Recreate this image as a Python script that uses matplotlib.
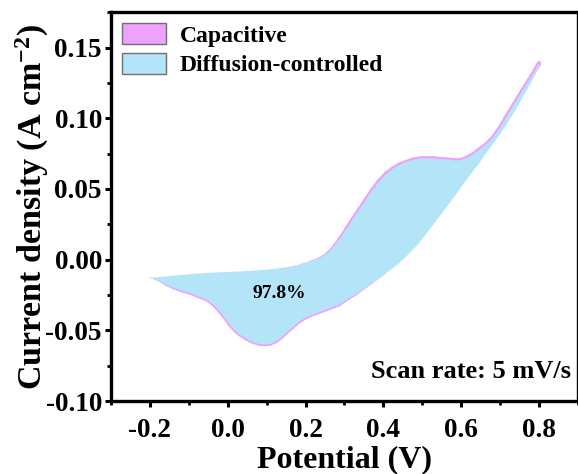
import matplotlib
matplotlib.use('Agg')
import matplotlib.pyplot as plt
import numpy as np
from matplotlib.patches import Patch
from matplotlib.collections import LineCollection
from matplotlib.ticker import MultipleLocator

# Forward (anodic) scan
fwd_v = [-0.2, -0.17, -0.14, -0.097, -0.055, 0.0, 0.031, 0.074, 0.116, 0.15,
         0.185, 0.21, 0.236, 0.253, 0.27, 0.287, 0.304, 0.32, 0.338, 0.355,
         0.372, 0.39, 0.407, 0.424, 0.441, 0.458, 0.475, 0.492, 0.509, 0.53,
         0.552, 0.57, 0.586, 0.6, 0.612, 0.629, 0.646, 0.663, 0.68, 0.70,
         0.715, 0.735, 0.757, 0.78, 0.8]
fwd_j = [-0.0129, -0.0121, -0.0113, -0.0103, -0.0094, -0.0087, -0.0083, -0.0076,
         -0.0066, -0.0054, -0.0035, -0.0014, 0.0012, 0.0040, 0.0085, 0.0145,
         0.0212, 0.028, 0.0353, 0.0425, 0.0494, 0.0558, 0.0608, 0.0643, 0.0671,
         0.069, 0.0706, 0.0714, 0.0718, 0.0716, 0.0711, 0.0706, 0.0701, 0.0705,
         0.0718, 0.0742, 0.0777, 0.0812, 0.0858, 0.0935, 0.1005, 0.1095, 0.1195,
         0.1295, 0.139]

# Reverse (cathodic) scan
rev_v = [0.8, 0.78, 0.757, 0.74, 0.71, 0.689, 0.667, 0.646, 0.62, 0.595, 0.57,
         0.544, 0.518, 0.492, 0.466, 0.441, 0.405, 0.372, 0.35, 0.33, 0.313,
         0.287, 0.253, 0.219, 0.2, 0.185, 0.168, 0.15, 0.138, 0.125, 0.11, 0.095,
         0.08, 0.065, 0.048, 0.031, 0.018, 0.005, -0.008, -0.021, -0.038, -0.055,
         -0.075, -0.097, -0.12, -0.14, -0.158, -0.174, -0.188, -0.2]
rev_j = [0.1365, 0.1255, 0.1145, 0.106, 0.093, 0.0847, 0.0765, 0.0683, 0.059,
         0.0494, 0.040, 0.0306, 0.0212, 0.0118, 0.0043, -0.0023, -0.0100, -0.0165,
         -0.0205, -0.0245, -0.0270, -0.0318, -0.0353, -0.0388, -0.041, -0.0436,
         -0.0475, -0.0518, -0.0550, -0.0577, -0.0595, -0.060, -0.0596, -0.0584,
         -0.0560, -0.053, -0.050, -0.046, -0.041, -0.0365, -0.0315, -0.0282,
         -0.026, -0.0235, -0.0218, -0.020, -0.0178, -0.0153, -0.0138, -0.0129]

cap_color = '#EEA2FB'
dif_color = '#B3E4F8'

plt.rcParams['font.family'] = ['Liberation Serif', 'DejaVu Serif']
plt.rcParams['font.weight'] = 'bold'
plt.rcParams['mathtext.fontset'] = 'custom'
plt.rcParams['mathtext.rm'] = 'Liberation Serif:bold'
plt.rcParams['mathtext.bf'] = 'Liberation Serif:bold'
plt.rcParams['mathtext.default'] = 'bf'
plt.rcParams['axes.unicode_minus'] = False


def rim(ax, v, j, width, taper_start=True, taper_end=True, n=5):
    # pink capacitive rim, tapered so it fades in/out like the original
    pts = np.column_stack([v, j]).reshape(-1, 1, 2)
    segs = np.concatenate([pts[:-1], pts[1:]], axis=1)
    k = np.arange(len(segs))
    w = np.full(len(segs), width)
    if taper_start:
        w = np.minimum(w, width * (k + 1) / (n + 1))
    if taper_end:
        w = np.minimum(w, width * (len(segs) - k) / (n + 1))
    ax.add_collection(LineCollection(segs, linewidths=w, colors=cap_color,
                                     capstyle='round', zorder=1))


fig = plt.figure(figsize=(5.78, 4.74), dpi=100)
ax = fig.add_axes([0.192, 0.154, 0.808, 0.82])

fv, fj = np.array(fwd_v), np.array(fwd_j)
rv, rj = np.array(rev_v), np.array(rev_j)
up = fv >= 0.185
lo = (rv <= 0.405) & (rv >= -0.2)
rim(ax, fv[up], fj[up], 3.2, taper_start=True, taper_end=False, n=6)
rim(ax, rv[lo], rj[lo], 2.5, taper_start=True, taper_end=True, n=5)

ax.fill(fwd_v + rev_v, fwd_j + rev_j, facecolor=dif_color, edgecolor='none', zorder=2)

ax.text(0.133, -0.024, '97.8%', fontsize=14, fontweight='bold', ha='center', va='center', zorder=3)
ax.text(0.882, -0.079, 'Scan rate: 5 mV/s', fontsize=19, fontweight='bold', ha='right', va='center')

ax.set_xlim(-0.3, 0.9)
ax.set_ylim(-0.1, 0.175)
ax.xaxis.set_minor_locator(MultipleLocator(0.1))
ax.yaxis.set_minor_locator(MultipleLocator(0.025))
ax.set_xticks([-0.2, 0.0, 0.2, 0.4, 0.6, 0.8])
ax.set_yticks([-0.10, -0.05, 0.0, 0.05, 0.10, 0.15])
ax.set_xticklabels(['-0.2', '0.0', '0.2', '0.4', '0.6', '0.8'])
ax.set_yticklabels(['-0.10', '-0.05', '0.00', '0.05', '0.10', '0.15'])

ax.tick_params(which='major', direction='out', length=4.5, width=2.2, labelsize=19.5, pad=2)
ax.tick_params(which='minor', direction='out', length=3, width=2.0)
ax.tick_params(axis='x', which='major', pad=8)
for s in ax.spines.values():
    s.set_linewidth(2.4)

ax.set_xlabel('Potential (V)', fontsize=23, fontweight='bold', labelpad=1)
ax.set_ylabel('Current density (A cm$^{-2}$)', fontsize=24.5, fontweight='bold', labelpad=-4)

handles = [Patch(facecolor=cap_color, edgecolor='#707070', lw=1.0, label='Capacitive'),
           Patch(facecolor=dif_color, edgecolor='#707070', lw=1.0, label='Diffusion-controlled')]
ax.legend(handles=handles, loc='upper left', frameon=False, fontsize=17,
          handlelength=1.9, handleheight=1.0, handletextpad=0.55,
          borderaxespad=0.25, borderpad=0.2, labelspacing=0.25)

fig.savefig('out.png', dpi=100)
